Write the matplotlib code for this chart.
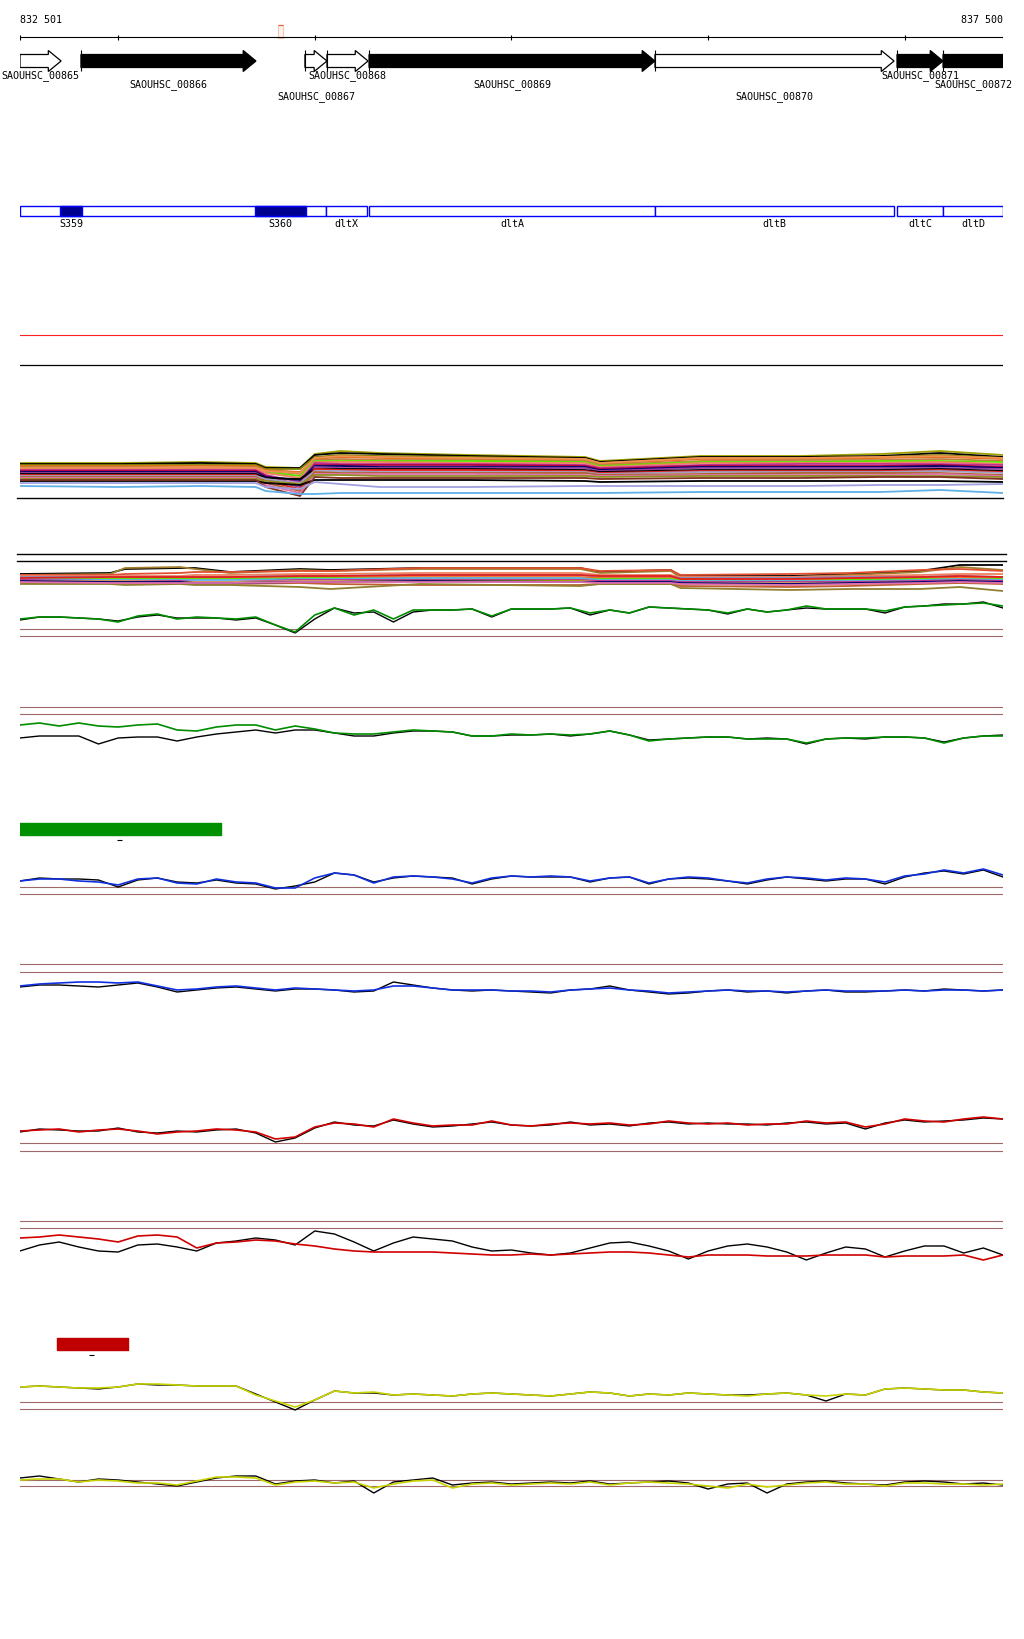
"""
Genome browser style view of the dlt operon region (SAOUHSC_00865 - 00872):
gene arrows, feature boxes and several signal tracks.
"""

import matplotlib
matplotlib.use("Agg")
import matplotlib.pyplot as plt
from matplotlib.patches import Polygon, Rectangle

plt.rcParams["font.family"] = ["DejaVu Sans Mono", "DejaVu Sans"]

W, H = 1024, 1640
START, END = 832501, 837500

# ===== region data =====
tick_pos = [832501, 833000, 834000, 835000, 836000, 837000, 837500]
marker = (833813, 833839)

gene_names = ["SAOUHSC_00865", "SAOUHSC_00866", "SAOUHSC_00867", "SAOUHSC_00868",
              "SAOUHSC_00869", "SAOUHSC_00870", "SAOUHSC_00871", "SAOUHSC_00872"]
gene_start = [832501, 832811, 833950, 834062, 834276, 835730, 836961, 837195]
gene_end = [832710, 833701, 834062, 834271, 835730, 836946, 837195, 837700]
gene_filled = [False, True, False, False, True, False, True, True]

feat_names = ["", "S359", "S360", "dltX", "dltA", "dltB", "dltC", "dltD"]
feat_start = [832501, 832704, 833696, 834057, 834276, 835730, 836961, 837195]
feat_end = [834057, 832816, 833955, 834266, 835730, 836946, 837195, 837500]
feat_filled = [False, True, True, False, False, False, False, False]

# ===== multi-sample bundles =====
b1_pos = [832501, 833010, 833420, 833700, 833750, 833925, 834000, 834130, 834330,
          834790, 835375, 835450, 835960, 836470, 836875, 837180, 837500]
b1_colors = ["#a0a000", "#000000", "#808000", "#e07020", "#c08040", "#60e000",
             "#f08060", "#c03090", "#b00040", "#000070", "#9040a0", "#000000",
             "#e02020", "#a0a0c0", "#b06030", "#e070b0", "#909020", "#000000",
             "#803020", "#60b0e8", "#a0a0e0", "#f09050"]
b1_values = [
    [41, 41, 42, 41, 37, 36, 50, 53, 51, 49, 47, 43, 48, 48, 50, 53, 49],
    [40, 40, 41, 40, 36, 36, 49, 51, 50, 48, 46, 42, 47, 47, 48, 51, 47],
    [39, 39, 39, 39, 35, 35, 47, 49, 48, 47, 45, 41, 46, 46, 47, 49, 46],
    [38, 38, 38, 38, 34, 32, 45, 47, 46, 45, 44, 40, 45, 45, 46, 47, 45],
    [37, 37, 37, 37, 33, 30, 44, 45, 44, 44, 43, 39, 43, 44, 44, 45, 43],
    [36, 35, 36, 36, 32, 28, 43, 43, 43, 43, 42, 38, 42, 42, 43, 43, 42],
    [35, 35, 35, 35, 31, 26, 42, 42, 42, 41, 41, 37, 41, 41, 41, 42, 40],
    [34, 34, 34, 34, 29, 22, 41, 40, 40, 40, 39, 36, 39, 40, 40, 40, 39],
    [33, 33, 33, 33, 28, 19, 39, 39, 39, 39, 38, 35, 38, 38, 38, 39, 37],
    [32, 32, 32, 32, 27, 24, 38, 38, 37, 37, 37, 34, 37, 37, 37, 38, 36],
    [31, 31, 31, 31, 25, 17, 37, 36, 36, 36, 36, 33, 36, 36, 36, 36, 35],
    [30, 30, 30, 30, 26, 25, 35, 35, 35, 35, 34, 32, 34, 34, 34, 35, 33],
    [29, 29, 29, 29, 23, 15, 35, 34, 34, 34, 33, 31, 33, 33, 33, 34, 32],
    [28, 28, 28, 28, 25, 21, 33, 33, 32, 32, 32, 30, 32, 32, 32, 33, 31],
    [27, 27, 27, 27, 21, 13, 32, 31, 31, 31, 31, 29, 30, 31, 31, 31, 29],
    [26, 26, 26, 26, 19, 11, 30, 30, 30, 30, 29, 28, 29, 29, 29, 30, 28],
    [25, 25, 25, 25, 23, 20, 29, 29, 28, 28, 28, 27, 28, 28, 28, 28, 27],
    [23, 23, 23, 23, 21, 19, 24, 24, 24, 24, 23, 22, 23, 23, 23, 23, 22],
    [24, 24, 24, 24, 17, 8, 27, 26, 26, 26, 26, 25, 26, 26, 27, 27, 25],
    [18, 17, 18, 17, 13, 10, 10, 11, 11, 11, 11, 11, 12, 12, 12, 14, 11],
    [21, 21, 21, 21, 17, 15, 22, 20, 17, 17, 18, 18, 18, 18, 19, 19, 20],
    [36, 36, 37, 36, 33, 31, 46, 48, 47, 46, 45, 41, 46, 46, 47, 48, 46],
]

b2_pos = [832501, 832960, 833035, 833315, 833390, 833570, 833925, 834080, 834535,
          835350, 835450, 835810, 835860, 836415, 836720, 837080, 837280, 837500]
b2_colors = ["#000000", "#a08030", "#e05030", "#f08060", "#8090c0", "#f07020",
             "#60e000", "#60b0e8", "#c03090", "#d0a060", "#a0a000", "#c06030",
             "#000070", "#908030", "#e02020", "#e070b0"]
b2_values = [
    [25, 26, 30, 31, 31, 27, 30, 29, 31, 31, 27, 29, 23, 23, 25, 28, 34, 34],
    [24, 25, 31, 32, 30, 26, 29, 28, 30, 30, 26, 28, 22, 22, 24, 27, 32, 29],
    [24, 24, 25, 26, 27, 27, 28, 28, 31, 31, 28, 29, 24, 25, 26, 29, 30, 28],
    [23, 23, 23, 23, 24, 24, 25, 25, 26, 26, 24, 24, 22, 22, 23, 24, 25, 25],
    [22, 22, 22, 22, 22, 22, 23, 23, 24, 24, 22, 22, 21, 21, 22, 22, 23, 22],
    [21, 21, 21, 21, 21, 21, 22, 22, 22, 22, 21, 21, 20, 19, 20, 21, 22, 21],
    [20, 20, 20, 20, 20, 20, 21, 21, 20, 20, 20, 20, 19, 18, 19, 20, 20, 20],
    [20, 19, 19, 19, 19, 19, 20, 20, 21, 21, 19, 19, 18, 18, 18, 19, 20, 19],
    [19, 18, 18, 18, 17, 17, 19, 19, 19, 19, 18, 18, 17, 17, 17, 18, 19, 18],
    [18, 18, 18, 17, 17, 17, 18, 18, 18, 18, 17, 17, 16, 16, 16, 17, 18, 17],
    [17, 17, 17, 17, 16, 16, 17, 17, 18, 18, 16, 16, 15, 14, 15, 16, 17, 16],
    [16, 16, 16, 16, 15, 15, 16, 15, 14, 14, 15, 15, 13, 12, 13, 15, 16, 15],
    [18, 17, 17, 17, 16, 16, 17, 17, 18, 17, 17, 17, 16, 15, 16, 17, 18, 17],
    [15, 15, 14, 15, 14, 14, 12, 10, 15, 13, 15, 15, 11, 9, 10, 10, 12, 8],
    [21, 22, 22, 22, 22, 22, 23, 23, 24, 24, 23, 23, 20, 20, 21, 22, 23, 22],
    [17, 16, 16, 16, 16, 16, 17, 17, 17, 17, 16, 16, 15, 14, 15, 16, 17, 16],
]

# ===== signal tracks (one value every 100 bp) =====
pos = list(range(832500, 837501, 100))

A_green = [20, 22, 22, 21, 20, 17, 23, 25, 20, 22, 21, 20, 22, 14, 7, 24, 31, 24, 29, 20,
           29, 29, 29, 30, 23, 30, 30, 30, 31, 26, 29, 26, 32, 31, 30, 29, 26, 30, 27, 29,
           33, 30, 30, 30, 28, 32, 33, 34, 35, 36, 33]
A_black = [19, 22, 22, 21, 20, 18, 22, 24, 21, 21, 21, 19, 21, 14, 6, 20, 31, 26, 27, 17,
           27, 29, 29, 30, 22, 30, 30, 30, 31, 24, 29, 26, 32, 31, 30, 29, 25, 30, 27, 29,
           31, 30, 30, 30, 26, 32, 33, 35, 35, 37, 31]
B_green = [34, 36, 33, 36, 33, 32, 34, 35, 29, 28, 32, 34, 34, 29, 33, 30, 26, 25, 25, 27,
           29, 28, 27, 23, 23, 25, 24, 25, 24, 25, 28, 24, 18, 20, 21, 22, 22, 20, 20, 20,
           16, 20, 21, 21, 22, 22, 21, 16, 21, 23, 23]
B_black = [21, 23, 23, 23, 15, 21, 22, 22, 18, 22, 25, 27, 29, 26, 29, 29, 26, 23, 23, 26,
           28, 28, 27, 23, 23, 24, 24, 25, 23, 25, 28, 24, 19, 20, 21, 22, 22, 20, 21, 20,
           15, 20, 21, 20, 22, 22, 21, 17, 21, 23, 24]
C_blue = [18, 20, 20, 18, 17, 14, 20, 21, 16, 15, 20, 17, 16, 11, 11, 21, 26, 24, 16, 22,
          23, 22, 20, 16, 21, 23, 22, 23, 22, 18, 21, 22, 16, 20, 22, 21, 18, 16, 20, 22,
          21, 19, 21, 20, 17, 23, 25, 29, 26, 30, 24]
C_black = [18, 21, 20, 20, 19, 12, 19, 21, 17, 16, 19, 16, 15, 10, 13, 17, 26, 24, 17, 21,
           23, 22, 21, 15, 20, 23, 22, 22, 22, 17, 21, 22, 15, 20, 21, 20, 18, 15, 19, 22,
           20, 18, 20, 20, 15, 22, 26, 28, 25, 29, 22]
D_blue = [18, 20, 21, 22, 22, 21, 22, 18, 14, 15, 17, 18, 16, 14, 16, 15, 14, 13, 14, 18,
          18, 16, 14, 14, 14, 13, 13, 12, 14, 15, 16, 14, 13, 11, 12, 13, 14, 13, 13, 12,
          13, 14, 13, 13, 13, 14, 13, 14, 14, 13, 14]
D_black = [17, 19, 19, 18, 17, 19, 21, 17, 12, 14, 16, 17, 15, 13, 15, 15, 14, 12, 13, 22,
           19, 16, 14, 13, 14, 13, 12, 11, 14, 15, 18, 14, 12, 10, 11, 13, 14, 12, 13, 11,
           13, 14, 12, 12, 13, 14, 13, 15, 14, 13, 14]
E_red = [28, 29, 30, 27, 29, 30, 28, 25, 27, 28, 30, 29, 27, 20, 22, 32, 36, 35, 32, 40,
         36, 33, 34, 34, 38, 34, 33, 35, 36, 35, 36, 34, 35, 38, 36, 35, 36, 34, 35, 35,
         38, 36, 37, 32, 35, 40, 38, 37, 40, 42, 40]
E_black = [27, 30, 29, 28, 28, 31, 27, 26, 28, 27, 29, 30, 26, 17, 21, 31, 37, 34, 33, 39,
           35, 32, 33, 35, 37, 34, 33, 34, 37, 34, 35, 33, 36, 37, 35, 36, 35, 35, 34, 36,
           37, 35, 36, 30, 36, 39, 37, 38, 39, 41, 40]
F_red = [31, 32, 34, 32, 30, 27, 33, 34, 32, 21, 26, 27, 29, 28, 25, 23, 20, 18, 17, 17,
         17, 17, 16, 15, 14, 14, 15, 14, 15, 16, 17, 17, 16, 14, 12, 14, 14, 14, 13, 13,
         13, 14, 14, 14, 12, 13, 13, 13, 14, 9, 14]
F_black = [18, 24, 27, 22, 18, 17, 24, 25, 22, 18, 26, 28, 31, 29, 24, 38, 35, 27, 18, 26,
           32, 30, 28, 22, 18, 19, 16, 14, 16, 21, 26, 27, 23, 18, 10, 18, 23, 25, 22, 17,
           9, 16, 22, 20, 12, 18, 23, 23, 16, 21, 14]
G_yellow = [32, 33, 32, 31, 31, 32, 35, 35, 34, 33, 33, 33, 24, 18, 12, 19, 28, 26, 27, 24,
            25, 24, 23, 25, 26, 25, 24, 23, 25, 27, 26, 23, 25, 24, 26, 25, 24, 23, 25, 26,
            24, 23, 25, 24, 30, 31, 30, 29, 29, 27, 26]
G_black = [32, 33, 32, 31, 30, 32, 35, 34, 34, 33, 33, 33, 25, 17, 9, 19, 28, 26, 26, 24,
           25, 24, 23, 25, 26, 25, 24, 23, 25, 27, 26, 23, 25, 24, 26, 25, 24, 24, 25, 26,
           24, 18, 25, 24, 30, 31, 30, 29, 29, 27, 26]
H_yellow = [24, 25, 25, 22, 24, 23, 21, 21, 19, 23, 27, 27, 26, 19, 22, 23, 21, 22, 16, 20,
            23, 24, 16, 20, 21, 19, 20, 21, 20, 22, 19, 21, 22, 21, 20, 18, 16, 20, 17, 19,
            21, 22, 20, 20, 18, 21, 21, 20, 20, 19, 20]
H_black = [26, 28, 25, 22, 25, 24, 22, 20, 18, 22, 26, 28, 28, 20, 23, 24, 21, 23, 11, 22,
           24, 26, 19, 21, 22, 20, 21, 22, 21, 23, 20, 21, 22, 23, 21, 15, 20, 21, 11, 20,
           22, 23, 21, 20, 19, 22, 23, 22, 20, 21, 19]

green_bar = (832501, 833523)
green_dash = (832994, 833019)
red_bar = (832689, 833050)
red_dash = (832852, 832877)

BROWN = "#a06868"

fig = plt.figure(figsize=(W / 100, H / 100), dpi=100)


def track(y_top, y_bot):
    """pixel band -> axes; y unit = 1 px above the band bottom"""
    ax = fig.add_axes([20 / W, 1 - y_bot / H, 983 / W, (y_bot - y_top) / H])
    ax.set_xlim(START, END)
    ax.set_ylim(0, y_bot - y_top)
    ax.axis("off")
    return ax


# --- ruler, genes and features ---
top = fig.add_axes([20 / W, 1 - 240 / H, 983 / W, 240 / H])
top.set_xlim(START, END)
top.set_ylim(240, 0)
top.axis("off")

top.text(START, 20, "832 501", ha="left", va="center", fontsize=7.2)
top.text(END, 20, "837 500", ha="right", va="center", fontsize=7.2)
top.hlines(38, START, END, color="black", lw=0.8)
top.vlines(tick_pos, 35.5, 41, color="black", lw=0.8)
top.add_patch(Rectangle((marker[0], 26), marker[1] - marker[0], 13,
                        facecolor="#fff4f0", edgecolor="#f4c4b4", lw=0.8))
top.hlines(26, marker[0], marker[1], color="#e8603c", lw=0.9)

yc = 62
for i, (name, s, e, filled) in enumerate(zip(gene_names, gene_start, gene_end, gene_filled)):
    hl = min(65, (e - s) * 0.6)
    pts = [(s, yc - 6.5), (e - hl, yc - 6.5), (e - hl, yc - 10.5), (e, yc),
           (e - hl, yc + 10.5), (e - hl, yc + 6.5), (s, yc + 6.5)]
    top.add_patch(Polygon(pts, closed=True, facecolor="black" if filled else "white",
                          edgecolor="black", lw=0.9, clip_on=True))
    if i > 0:
        top.vlines(s, 51, 72, color="black", lw=0.8)
    cx = (s + min(e, END)) / 2
    top.text(cx, [76, 85, 97][i % 3], name, ha="center", va="center", fontsize=7.2)

for name, s, e, filled in zip(feat_names, feat_start, feat_end, feat_filled):
    if filled:
        continue
    top.add_patch(Rectangle((s, 207), e - s, 10, facecolor="white",
                            edgecolor="#0000ff", lw=1.0))
for name, s, e, filled in zip(feat_names, feat_start, feat_end, feat_filled):
    if filled:
        top.add_patch(Rectangle((s, 207), e - s, 10, facecolor="#000090",
                                edgecolor="#0000ff", lw=1.0))
    if name:
        top.text((s + e) / 2, 224, name, ha="center", va="center", fontsize=7.2)

# --- bundle 1 ---
ax = track(330, 505)
ax.axhline(169, color="#ff2020", lw=0.8)
ax.axhline(139, color="black", lw=0.9)
ax.axhline(6, color="black", lw=1.0, xmin=-0.003, clip_on=False)
for col, vals in zip(b1_colors, b1_values):
    ax.plot(b1_pos, vals, color=col, lw=1.3, solid_joinstyle="miter")

# --- bundle 2 ---
ax = track(545, 600)
ax.axhline(45, color="black", lw=1.0, xmin=-0.003, xmax=1.003, clip_on=False)
ax.axhline(38, color="black", lw=1.0, xmin=-0.003, xmax=1.003, clip_on=False)
for col, vals in zip(b2_colors, b2_values):
    ax.plot(b2_pos, vals, color=col, lw=1.3)

# --- line tracks ---
panels = [
    ((595, 640), (10, 3), "#008c00", A_green, A_black),
    ((700, 760), (52, 45), "#008c00", B_green, B_black),
    ((860, 900), (12, 5), "#1030e0", C_blue, C_black),
    ((960, 1005), (40, 32), "#1030e0", D_blue, D_black),
    ((1110, 1160), (16, 8), "#d00000", E_red, E_black),
    ((1215, 1270), (48, 41), "#d00000", F_red, F_black),
    ((1375, 1420), (17, 10), "#c8d400", G_yellow, G_black),
    ((1455, 1505), (24, 18), "#c8d400", H_yellow, H_black),
]
for (y0, y1), lines, col, cvals, kvals in panels:
    ax = track(y0, y1)
    for v in lines:
        ax.axhline(v, color=BROWN, lw=0.8)
    ax.plot(pos, kvals, color="black", lw=1.0)
    ax.plot(pos, cvals, color=col, lw=1.2)

# --- coloured legend bars ---
ax = track(815, 845)
ax.broken_barh([(green_bar[0], green_bar[1] - green_bar[0])], (9, 12), color="#009000")
ax.hlines(4, *green_dash, color="black", lw=0.8)

ax = track(1330, 1360)
ax.broken_barh([(red_bar[0], red_bar[1] - red_bar[0])], (9, 12), color="#c00000")
ax.hlines(4, *red_dash, color="black", lw=0.8)

fig.savefig("out.png", dpi=100, facecolor="white")
